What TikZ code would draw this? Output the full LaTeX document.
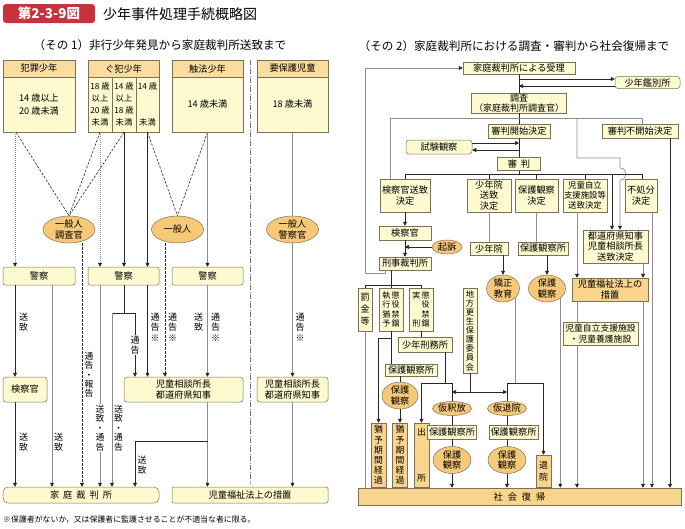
\documentclass[tikz,border=0pt]{standalone}
\usepackage{fontspec}
\setmainfont{Noto Sans CJK JP}
\usetikzlibrary{shapes.geometric,arrows.meta,calc}
\definecolor{bd}{RGB}{125,112,88}
\definecolor{lyel}{RGB}{253,250,208}
\definecolor{hdrc}{RGB}{249,220,158}
\definecolor{orng}{RGB}{248,212,140}
\definecolor{ellc}{RGB}{246,201,120}
\definecolor{tred}{RGB}{200,50,62}
\newcommand\fsA{\fontsize{9.2}{10.6}\selectfont}
\newcommand\fsV{\fontsize{9}{10.5}\selectfont}
\begin{document}
\begin{tikzpicture}[x=1pt,y=-1pt,
 box/.style={draw=bd, fill=lyel, line width=0.5pt, inner sep=0.5pt, align=center, font=\fsA},
 hdr/.style={box, fill=hdrc},
 obox/.style={box, fill=orng},
 ell/.style={ellipse, draw=bd, fill=ellc, line width=0.5pt, inner sep=0pt, align=center, font=\fsA},
 vt/.style={inner sep=0.3pt, align=center, font=\fsV},
 vtw/.style={vt, fill=white},
 bl/.style={draw=black!85, line width=0.6pt},
 gl/.style={draw=black!45, line width=0.7pt},
 ar/.style={-{Triangle[length=4pt,width=4pt,color=black!85]}},
 dsh/.style={dash pattern=on 2.5pt off 1.5pt},
 dtt/.style={dash pattern=on 1pt off 1pt}]
\useasboundingbox (0,0) rectangle (685,528);
\fill[white] (0,0) rectangle (685,528);
% titles
\node[fill=tred, rounded corners=3pt, minimum width=92pt, minimum height=19pt, text=white, inner sep=0pt, font=\fontsize{13.5}{15}\selectfont\bfseries] (tb) at (49,13.5) {第2-3-9図};
\node[anchor=west, inner sep=0pt, font=\fontsize{14}{16}\selectfont] (tt) at (103,14) {少年事件処理手続概略図};
\node[inner sep=0pt, font=\fontsize{11.6}{13}\selectfont] (s1) at (160,45) {（その 1）非行少年発見から家庭裁判所送致まで};
\node[inner sep=0pt, font=\fontsize{11.6}{13}\selectfont] (s2) at (514,46) {（その 2）家庭裁判所における調査・審判から社会復帰まで};
% ---------- left part ----------
\node[hdr, minimum width=72pt, minimum height=17pt] (h1) at (39,68.5) {犯罪少年};
\node[box, minimum width=72pt, minimum height=55pt, font=\fontsize{9.2}{12.5}\selectfont] (b1) at (39,104.5) {14 歳以上\\20 歳未満};
\node[hdr, minimum width=71pt, minimum height=17pt] (h2) at (123.5,68.5) {ぐ犯少年};
\node[box, minimum width=24pt, minimum height=55pt, font=\fontsize{8.3}{12}\selectfont] (c21) at (100,104.5) {18 歳\\以上\\20 歳\\未満};
\node[box, minimum width=24pt, minimum height=55pt, font=\fontsize{8.3}{12}\selectfont] (c22) at (124,104.5) {14 歳\\以上\\18 歳\\未満};
\node[box, minimum width=23pt, minimum height=55pt] (c23) at (147.5,104.5) {};
\node[inner sep=0pt, font=\fontsize{8.3}{12}\selectfont] (c23a) at (147.5,86.5) {14 歳};
\node[inner sep=0pt, font=\fontsize{8.3}{12}\selectfont] (c23b) at (147.5,122.5) {未満};
\node[hdr, minimum width=71pt, minimum height=17pt] (h3) at (207.5,68.5) {触法少年};
\node[box, minimum width=71pt, minimum height=55pt] (b3) at (207.5,104.5) {14 歳未満};
\node[hdr, minimum width=71pt, minimum height=17pt] (h4) at (292.5,68.5) {要保護児童};
\node[box, minimum width=71pt, minimum height=55pt] (b4) at (292.5,104.5) {18 歳未満};
\draw[black!55, line width=0.7pt, dash pattern=on 5pt off 1.5pt on 1pt off 1.5pt] (250,60) -- (250,484);
\node[ell, minimum width=52pt, minimum height=27pt] (e1) at (69,229.5) {一般人\\調査官};
\node[ell, minimum width=52pt, minimum height=27pt] (e2) at (177.5,229.5) {一般人};
\node[ell, minimum width=52pt, minimum height=27pt] (e3) at (292.5,229.5) {一般人\\警察官};
\node[box, rounded corners=2pt, minimum width=72pt, minimum height=18pt] (k1) at (39,276) {警察};
\node[box, rounded corners=2pt, minimum width=71pt, minimum height=18pt] (k2) at (123.5,276) {警察};
\node[box, rounded corners=2pt, minimum width=71pt, minimum height=18pt] (k3) at (207.5,276) {警察};
\node[box, rounded corners=3pt, minimum width=44pt, minimum height=25pt] (kL) at (25,389.5) {検察官};
\node[box, rounded corners=3pt, minimum width=119pt, minimum height=25pt] (jL1) at (183.5,389.5) {児童相談所長\\都道府県知事};
\node[box, rounded corners=3pt, minimum width=71pt, minimum height=25pt] (jL2) at (292.5,389.5) {児童相談所長\\都道府県知事};
\node[box, rounded corners=5pt, minimum width=156pt, minimum height=16pt] (kaL) at (81,495) {家\hspace{4pt}庭\hspace{4pt}裁\hspace{4pt}判\hspace{4pt}所};
\node[box, rounded corners=2pt, minimum width=156pt, minimum height=16pt] (soL) at (250,495) {児童福祉法上の措置};
\node[anchor=west, inner sep=0pt, font=\fontsize{7.9}{9}\selectfont] (fn) at (3,520) {※保護者がないか，又は保護者に監護させることが不適当な者に限る。};
% left connectors
\draw[bl, dsh] (b1.south -| 16,0) -- (e1.north);
\draw[bl, dsh] (c21.south) -- (e1.north);
\draw[bl, dsh] (c22.south) -- (e1.north);
\draw[bl, dsh] (c23.south) -- (e2.north);
\draw[bl, dsh] (b3.south) -- (e2.north);
\draw[gl, dtt, ar] (b1.south -| 15,0) -- (k1.north -| 15,0);
\draw[gl, dtt, ar] (c21.south) -- (k2.north -| c21.south);
\draw[bl, ar] (c22.south) -- (k2.north -| c22.south);
\draw[bl, ar] (c23.south) -- (k2.north -| c23.south);
\draw[gl, ar] (b3.south) -- (k3.north);
\draw[gl] (b4.south) -- (e3.north);
\draw[gl, ar] (e3.south) -- (jL2.north);
\node[vt] (l1) at (300,327) {通\\告\\※};
\draw[bl, ar] (k1.south -| 15,0) -- (kL.north -| 15,0);
\node[vt] (l2) at (23.5,322) {送\\致};
\draw[gl, ar] (k1.south -| 52,0) -- (kaL.north -| 52,0);
\node[vt] (l3) at (58.5,442) {送\\致};
\draw[bl, ar] (kL.south -| 15,0) -- (kaL.north -| 15,0);
\node[vt] (l4) at (23.5,442) {送\\致};
\draw[bl, dsh, ar] (e1.south -| 82,0) -- (kaL.north -| 82,0);
\node[vt, font=\fontsize{8.8}{9.3}\selectfont] (l5) at (89,375) {通\\告\\・\\報\\告};
\draw[gl, ar] (k2.south -| c21.south) -- (kaL.north -| c21.south);
\node[vtw, font=\fontsize{8.8}{9.6}\selectfont] (l6) at (100,428) {送\\致\\・\\通\\告};
\coordinate (p1) at (112,313);
\coordinate (p2) at (135,313);
\draw[bl] (k2.south -| c22.south) -- (c22.south |- p1);
\draw[bl] (p1) -- (p2);
\draw[bl, ar] (p2) -- (jL1.north -| p2);
\node[vtw] (l7) at (135,345) {通\\告};
\draw[gl, ar] (p1) -- (kaL.north -| p1);
\node[vt, font=\fontsize{8.8}{9.6}\selectfont] (l8) at (118.5,428) {送\\致\\・\\通\\告};
\draw[bl, ar] (k2.south -| c23.south) -- (jL1.north -| c23.south);
\node[vt] (l9) at (155,327) {通\\告\\※};
\draw[bl, dsh, ar] (e2.south -| 165,0) -- (jL1.north -| 165,0);
\node[vt] (l10) at (172.5,327) {通\\告\\※};
\draw[gl, ar] (k3.south) -- (jL1.north -| k3.south);
\node[vt] (l11) at (198.5,322) {送\\致};
\node[vt] (l12) at (215.5,327) {通\\告\\※};
\draw[gl, ar] (jL1.south -| k3.south) -- (soL.north -| k3.south);
\coordinate (p3) at (207.5,441);
\coordinate (p4) at (135,441);
\draw[bl, ar] (p3) -- (p4) -- (kaL.north -| p4);
\node[vt] (l13) at (142,465) {送\\致};
\draw[gl, ar] (jL2.south) -- (soL.north -| jL2.south);
% ---------- right part ----------
\node[box, minimum width=112pt, minimum height=12pt] (r1) at (519,68) {家庭裁判所による受理};
\node[box, rounded corners=3pt, minimum width=65pt, minimum height=12pt] (kb) at (647.5,82.5) {少年鑑別所};
\node[box, minimum width=95pt, minimum height=20pt, font=\fontsize{9}{9.8}\selectfont] (ch) at (519,103) {調査\\（家庭裁判所調査官）};
\node[box, minimum width=62pt, minimum height=14pt] (sk0) at (519,131) {審判開始決定};
\node[box, minimum width=76pt, minimum height=14pt] (fk0) at (640,131) {審判不開始決定};
\node[box, rounded corners=3pt, minimum width=66pt, minimum height=14pt] (sh) at (439,147) {試験観察};
\node[box, minimum width=43pt, minimum height=13pt] (sp) at (519,164) {審\hspace{4pt}判};
\node[box, minimum width=50pt, minimum height=33pt] (kk) at (405,195.5) {検察官送致\\決定};
\node[box, minimum width=44pt, minimum height=33pt] (sk) at (489,195.5) {少年院\\送致\\決定};
\node[box, minimum width=43pt, minimum height=33pt] (hk) at (536.5,195.5) {保護観察\\決定};
\node[box, minimum width=44pt, minimum height=33pt, font=\fontsize{8.4}{10.2}\selectfont] (jk) at (585,195.5) {児童自立\\支援施設等\\送致決定};
\node[box, minimum width=32pt, minimum height=33pt] (fk) at (641,195.5) {不処分\\決定};
\node[box, minimum width=65pt, minimum height=33pt] (td) at (615.5,246.5) {都道府県知事\\児童相談所長\\送致決定};
\node[box, minimum width=52pt, minimum height=14pt] (kR) at (405,233) {検察官};
\node[box, minimum width=52pt, minimum height=13pt] (kj) at (405,263.5) {刑事裁判所};
\node[ell, minimum width=30pt, minimum height=14pt] (ki) at (447,247) {起訴};
\node[box, minimum width=38pt, minimum height=13pt] (sn) at (489,248.5) {少年院};
\node[box, minimum width=50pt, minimum height=13pt] (hs1) at (543,248.5) {保護観察所};
\node[ell, minimum width=33pt, minimum height=23pt] (ky) at (503,288.5) {矯正\\教育};
\node[ell, minimum width=37pt, minimum height=24pt] (he1) at (547,288.5) {保護\\観察};
\node[obox, minimum width=76pt, minimum height=23pt] (soR) at (610,289.5) {児童福祉法上の\\措置};
\node[box, minimum width=75pt, minimum height=23pt, font=\fontsize{8.8}{10.4}\selectfont] (js) at (600.5,333.5) {児童自立支援施設\\・児童養護施設};
\node[box, minimum width=14pt, minimum height=43pt, font=\fontsize{9}{12}\selectfont] (bk) at (365,309.5) {罰\\金\\等};
\node[box, minimum width=24pt, minimum height=43pt, font=\fontsize{8}{9.6}\selectfont] (sy) at (391,309.5) {執\,懲\\行\,役\\猶\,禁\\予\,錮};
\node[box, minimum width=24pt, minimum height=43pt, font=\fontsize{8}{9.6}\selectfont] (jkk) at (421,309.5) {実\,懲\\\phantom{実}\,役\\\phantom{実}\,禁\\刑\,錮};
\node[box, minimum width=14pt, minimum height=85pt, font=\fontsize{8.2}{9.1}\selectfont] (cg) at (470,330.5) {地\\方\\更\\生\\保\\護\\委\\員\\会};
\node[box, minimum width=54pt, minimum height=15pt] (sk3) at (425,344.5) {少年刑務所};
\node[box, minimum width=52pt, minimum height=12pt] (hs2) at (411,370) {保護観察所};
\node[ell, minimum width=36pt, minimum height=25pt] (he2) at (400,395.5) {保護\\観察};
\node[obox, minimum width=15pt, minimum height=64pt, font=\fontsize{8.8}{10.2}\selectfont] (yu1) at (378.5,455) {猶\\予\\期\\間\\経\\過};
\node[obox, minimum width=15pt, minimum height=64pt, font=\fontsize{8.8}{10.2}\selectfont] (yu2) at (400,455) {猶\\予\\期\\間\\経\\過};
\node[obox, minimum width=15pt, minimum height=64pt, font=\fontsize{8.8}{10}\selectfont] (shu) at (421.5,455) {出\\[36pt]所};
\node[ell, minimum width=39pt, minimum height=14pt] (kr) at (452,408.5) {仮釈放};
\node[ell, minimum width=39pt, minimum height=14pt] (kt) at (507,408.5) {仮退院};
\node[box, minimum width=49pt, minimum height=14pt] (hs3) at (452,432) {保護観察所};
\node[box, minimum width=49pt, minimum height=14pt] (hs4) at (513.5,432) {保護観察所};
\node[ell, minimum width=38pt, minimum height=24pt] (he3) at (452,460) {保護\\観察};
\node[ell, minimum width=38pt, minimum height=24pt] (he4) at (507,460) {保護\\観察};
\node[obox, minimum width=15pt, minimum height=32pt, font=\fontsize{8.8}{12}\selectfont] (ti) at (543.5,471) {退\\院};
\node[obox, minimum width=323pt, minimum height=17pt] (sha) at (519.5,496.5) {社\hspace{5pt}会\hspace{5pt}復\hspace{5pt}帰};
% right connectors
\draw[bl] (r1.south) -- (ch.north);
\draw[bl, ar] (r1.south |- 0,79) -- (kb.west |- 0,79);
\draw[bl, ar] (kb.west |- 0,86) -- (r1.south |- 0,86);
\draw[bl] (ch.south) -- (sk0.north);
\coordinate (q1) at (390,118);
\coordinate (q2) at (642,118);
\coordinate (q3) at (577,118);
\draw[gl] (q1) -- (q2) -- (fk0.north -| q2);
\draw[gl] (q1) -- (kk.north -| q1);
\draw[gl, ar] (q3) -- (577,158) -- (620,158) -- (620,168) .. controls (628,168) and (628,180) .. (620,180) -- (td.north -| 620,0);
\draw[bl] (sk0.south) -- (sp.north);
\draw[bl, ar] (sh.east |- 0,143) -- (sk0.south |- 0,143);
\draw[bl, ar] (sk0.south |- 0,150) -- (sh.east |- 0,150);
\coordinate (q4) at (405,174);
\coordinate (q5) at (642,174);
\draw[bl] (sp.south) -- (sp.south |- q4);
\draw[bl] (q4) -- (q5) -- (fk.north -| q5);
\draw[bl] (q4) -- (kk.north);
\draw[bl] (sk.north |- q4) -- (sk.north);
\draw[bl] (hk.north |- q4) -- (hk.north);
\draw[bl] (jk.north |- q4) -- (jk.north);
\draw[bl, ar] (612,174) -- (td.north -| 612,0);
\draw[bl, ar] (kk.south) -- (kR.north);
\draw[bl, ar] (kR.south) -- (kj.north);
\draw[bl, ar] (ki.west) -- (ki.west -| kR.south);
\draw[gl] (sk.south) -- (sn.north);
\draw[gl] (hk.south) -- (hk.south |- hs1.north);
\draw[bl, ar] (sn.south -| ky.north) -- (ky.north);
\draw[bl, ar] (hs1.south -| he1.north) -- (he1.north);
\draw[gl, ar] (jk.south -| 577,0) -- (soR.north -| 577,0);
\draw[gl, ar] (td.south -| 643,0) -- (soR.north -| 643,0);
\draw[gl] (soR.south -| 577,0) -- (js.north -| 577,0);
\draw[gl, ar] (js.south -| 577,0) -- (sha.north -| 577,0);
\draw[gl, ar] (soR.south -| 643,0) -- (sha.north -| 643,0);
\draw[gl, ar] (fk.south -| 652,0) -- (sha.north -| 652,0);
\draw[bl, ar] (fk0.south -| 670,0) -- (sha.north -| 670,0);
\draw[gl, ar] (he1.south east) -- (he1.south east |- sha.north);
\coordinate (lp1) at (385,273.5);
\coordinate (lp2) at (365,273.5);
\coordinate (lp3) at (365,68);
\draw[gl, ar] (kj.south -| lp1) -- (lp1) -- (lp2) -- (lp3) -- (r1.west);
\coordinate (m1) at (365,285);
\coordinate (m2) at (421,285);
\draw[bl] (kj.south -| sy.north) -- (sy.north);
\draw[bl] (m1) -- (m2);
\draw[bl] (m1) -- (bk.north);
\draw[bl] (m2) -- (jkk.north);
\draw[gl] (bk.south) -- (bk.south |- sha.north);
\coordinate (n1) at (391,338);
\coordinate (n0) at (378.5,338);
\draw[bl] (sy.south) -- (n1);
\draw[bl, ar] (n1) -- (n0) -- (yu1.north);
\draw[bl] (n1) -- (hs2.north -| n1);
\draw[bl] (hs2.south -| he2.north) -- (he2.north);
\draw[bl, ar] (he2.south) -- (yu2.north);
\draw[bl] (jkk.south) -- (jkk.south |- sk3.north);
\coordinate (o1) at (421.5,383);
\coordinate (o2) at (452,383);
\draw[bl] (sk3.south -| 445,0) -- (445,383);
\draw[bl] (o1) -- (o2);
\draw[bl, ar] (o1) -- (shu.north);
\draw[bl] (o2) -- (kr.north);
\coordinate (o3) at (470,392);
\coordinate (o4) at (507,383);
\coordinate (o5) at (543.5,383);
\draw[bl] (cg.south) -- (o3);
\draw[bl, ar] (o3) -- (o3 -| o2);
\draw[bl, ar] (o3) -- (o3 -| o4);
\draw[gl] (ky.south east) -- (ky.south east |- o4);
\draw[bl] (o4) -- (o5);
\draw[bl] (o4) -- (kt.north);
\draw[bl, ar] (o5) -- (ti.north);
\draw[bl] (kr.south) -- (hs3.north);
\draw[bl] (hs3.south) -- (he3.north);
\draw[bl, ar] (he3.south) -- (he3.south |- sha.north);
\draw[bl] (kt.south) -- (kt.south |- hs4.north);
\draw[bl] (hs4.south -| kt.south) -- (he4.north);
\draw[bl, ar] (he4.south) -- (he4.south |- sha.north);
\end{tikzpicture}
\end{document}
